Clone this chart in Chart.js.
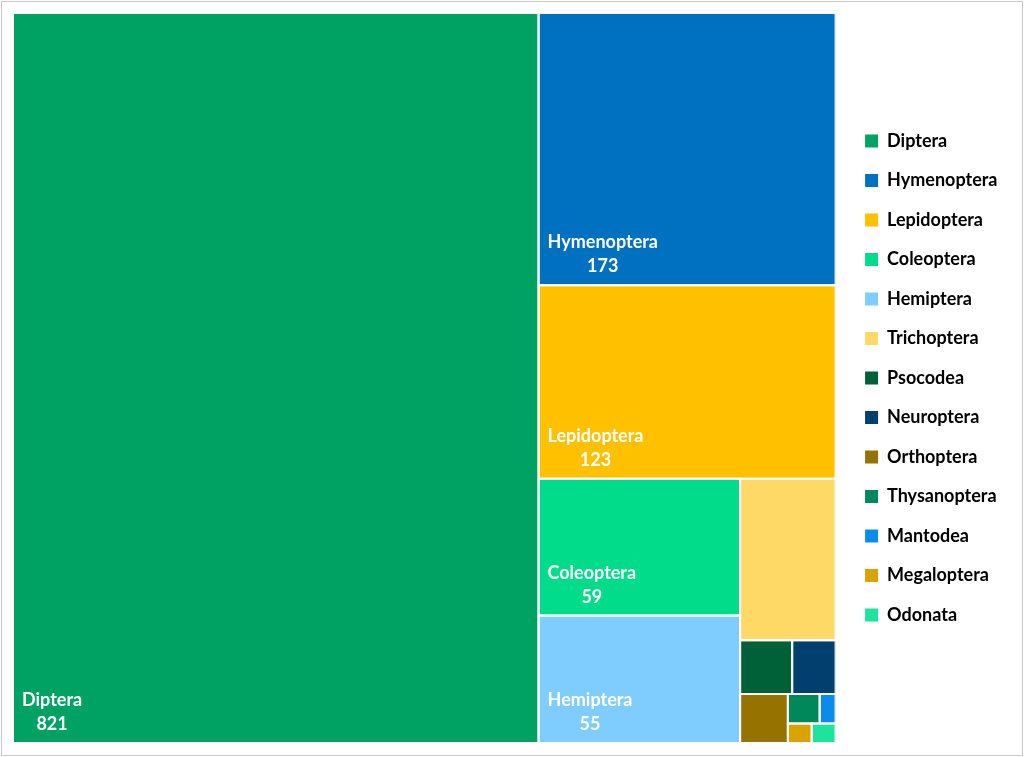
<!DOCTYPE html>
<html>
<head>
<meta charset="utf-8">
<title>Ordens</title>
<script src="https://cdn.jsdelivr.net/npm/chart.js@4/dist/chart.umd.min.js"></script>
<style>
  html, body { margin: 0; padding: 0; background: #fff; }
  canvas { display: block; }
</style>
</head>
<body>
<canvas id="treeChart" width="1024" height="757"></canvas>
<script>
// dados (os pequenos estimados pela área)
const ordens = ['Diptera', 'Hymenoptera', 'Lepidoptera', 'Coleoptera', 'Hemiptera', 'Trichoptera',
  'Psocodea', 'Neuroptera', 'Orthoptera', 'Thysanoptera', 'Mantodea', 'Megaloptera', 'Odonata'];
const individuos = [821, 173, 123, 59, 55, 33, 6, 5, 5, 2, 1, 1, 1];
const cores = ['#00A264', '#0070C0', '#FFC000', '#00DC8A', '#7FCCFF', '#FFD966',
  '#006139', '#003F6E', '#967300', '#00875A', '#0B8CEB', '#D9A300', '#1DE49D'];

const LARG = 822, ALT = 730;   // area do treemap em unidades de eixo
const comRotulo = 5;            // só as 5 maiores levam nome + valor

// squarified treemap em unidades de dados
function worst(row, s) {
  const soma = row.reduce((a, b) => a + b, 0);
  const max = Math.max(...row), min = Math.min(...row);
  return Math.max(s * s * max / (soma * soma), (soma * soma) / (s * s * min));
}

function squarify(valores, w, h) {
  const total = valores.reduce((a, b) => a + b, 0);
  const areas = valores.map(v => v * w * h / total);
  const rect = { x: 0, y: 0, w: w, h: h };
  const out = [];
  let row = [];
  let i = 0;

  function layoutRow(r) {
    const soma = r.reduce((a, b) => a + b, 0);
    if (rect.w >= rect.h) {
      const cw = soma / rect.h;
      let yy = rect.y;
      r.forEach(a => {
        const hh = a / cw;
        out.push({ x0: rect.x, x1: rect.x + cw, y0: yy, y1: yy + hh });
        yy += hh;
      });
      rect.x += cw; rect.w -= cw;
    } else {
      const rh = soma / rect.w;
      let xx = rect.x;
      r.forEach(a => {
        const ww = a / rh;
        out.push({ x0: xx, x1: xx + ww, y0: rect.y, y1: rect.y + rh });
        xx += ww;
      });
      rect.y += rh; rect.h -= rh;
    }
  }

  while (i < areas.length) {
    const lado = Math.min(rect.w, rect.h);
    const prox = row.concat([areas[i]]);
    if (row.length === 0 || worst(prox, lado) <= worst(row, lado)) {
      row = prox;
      i++;
    } else {
      layoutRow(row);
      row = [];
    }
  }
  if (row.length) layoutRow(row);
  return out;
}

const celulas = squarify(individuos, LARG, ALT);

const datasets = ordens.map((nome, i) => {
  const c = celulas[i];
  return {
    label: nome,
    data: [
      { x: c.x0, y: c.y0 }, { x: c.x1, y: c.y0 },
      { x: c.x1, y: c.y1 }, { x: c.x0, y: c.y1 }, { x: c.x0, y: c.y0 }
    ],
    showLine: true,
    fill: 'shape',
    backgroundColor: cores[i],
    borderColor: '#ffffff',
    borderWidth: 2,
    borderJoinStyle: 'miter',
    pointRadius: 0,
    tension: 0
  };
});

const fundo = {
  id: 'fundo',
  beforeDraw(chart) {
    const { ctx, width, height } = chart;
    ctx.save();
    ctx.fillStyle = '#ffffff';
    ctx.fillRect(0, 0, width, height);
    ctx.strokeStyle = '#c9c9c9';
    ctx.lineWidth = 1;
    ctx.strokeRect(1.5, 1.5, width - 3, height - 3);
    ctx.restore();
  }
};

const rotulos = {
  id: 'rotulos',
  afterDatasetsDraw(chart) {
    const { ctx, scales: { x, y } } = chart;
    ctx.save();
    ctx.font = 'bold 18px Lato';
    ctx.fillStyle = '#ffffff';
    ctx.textBaseline = 'middle';
    for (let i = 0; i < comRotulo; i++) {
      const c = celulas[i];
      const esq = x.getPixelForValue(c.x0) + 9;
      const base = y.getPixelForValue(c.y1);
      const w = ctx.measureText(ordens[i]).width;
      ctx.textAlign = 'left';
      ctx.fillText(ordens[i], esq, base - 42.5);
      ctx.textAlign = 'center';
      ctx.fillText(String(individuos[i]), esq + w / 2, base - 18.5);
    }
    ctx.restore();
  }
};

new Chart(document.getElementById('treeChart'), {
  type: 'scatter',
  data: { datasets: datasets },
  options: {
    responsive: false,
    animation: false,
    events: [],
    layout: { padding: { left: 13, top: 13, bottom: 14, right: 16.5 } },
    scales: {
      x: { type: 'linear', min: 0, max: LARG, display: false },
      y: { type: 'linear', min: 0, max: ALT, reverse: true, display: false },
      folga: {
        type: 'linear',
        position: 'right',
        grid: { display: false },
        ticks: { display: false },
        border: { display: false },
        afterFit: s => { s.width = 8; }
      }
    },
    plugins: {
      filler: { drawTime: 'beforeDatasetsDraw' },
      tooltip: { enabled: false },
      legend: {
        position: 'right',
        labels: {
          boxWidth: 13,
          boxHeight: 13,
          padding: 21.5,
          color: '#595959',
          font: { family: 'Lato', weight: 'bold', size: 18 },
          generateLabels: chart => chart.data.datasets.map((ds, i) => ({
            text: ds.label,
            fillStyle: ds.backgroundColor,
            strokeStyle: ds.backgroundColor,
            lineWidth: 0,
            hidden: false,
            datasetIndex: i
          }))
        }
      }
    }
  },
  plugins: [fundo, rotulos]
});
</script>
</body>
</html>
